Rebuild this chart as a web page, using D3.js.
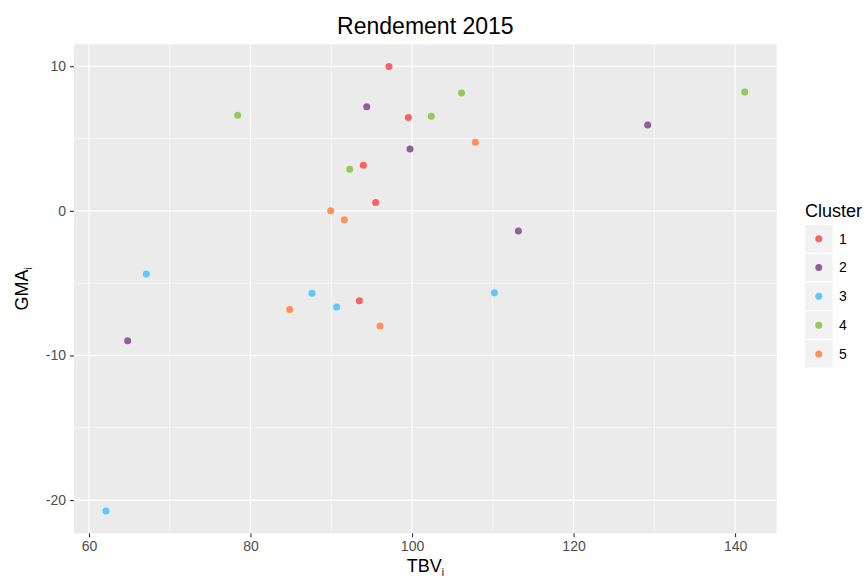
<!DOCTYPE html>
<html>
<head>
<meta charset="utf-8">
<script src="https://cdn.jsdelivr.net/npm/d3@7"></script>
<style>
  body { margin: 0; background: #ffffff; }
  svg { display: block; font-family: "Liberation Sans", Arial, sans-serif; }
</style>
</head>
<body>
<div id="chart"></div>
<script>
// cluster labels and colours
var clusters = ["1", "2", "3", "4", "5"];
var clusterColors = ["#fa6262", "#925d9b", "#5cc8fb", "#93c95b", "#fd9158"];

// points: TBV_i, GMA_i and cluster of each
var tbv = [97.15, 99.55, 93.97, 95.5, 93.48,
           94.39, 99.75, 129.18, 113.17, 64.79,
           67.1, 87.62, 90.67, 62.1, 110.2,
           78.41, 92.28, 106.13, 102.38, 141.2,
           89.93, 91.62, 107.84, 84.85, 96.04];
var gma = [9.98, 6.45, 3.15, 0.58, -6.22,
           7.19, 4.28, 5.94, -1.39, -8.99,
           -4.37, -5.69, -6.64, -20.76, -5.67,
           6.61, 2.87, 8.15, 6.55, 8.22,
           0.01, -0.61, 4.75, -6.82, -7.97];
var cluster = ["1", "1", "1", "1", "1",
               "2", "2", "2", "2", "2",
               "3", "3", "3", "3", "3",
               "4", "4", "4", "4", "4",
               "5", "5", "5", "5", "5"];

var xTicks = [60, 80, 100, 120, 140];
var xMinor = [70, 90, 110, 130];
var yTicks = [-20, -10, 0, 10];
var yMinor = [-15, -5, 5];

var width = 866;
var height = 580;
var panel = { left: 74, right: 776.7, top: 44.3, bottom: 533.3 };

// ggplot style 5% expansion
function expand(ext) {
  var pad = (ext[1] - ext[0]) * 0.05;
  return [ext[0] - pad, ext[1] + pad];
}

var xScale = d3.scaleLinear()
  .domain(expand(d3.extent(tbv)))
  .range([panel.left, panel.right]);

var yScale = d3.scaleLinear()
  .domain(expand(d3.extent(gma)))
  .range([panel.bottom, panel.top]);

var color = d3.scaleOrdinal().domain(clusters).range(clusterColors);

var svg = d3.select('#chart')
  .append('svg')
  .attr('width', width)
  .attr('height', height);

// panel background
svg.append('rect')
  .attr('x', panel.left)
  .attr('y', panel.top)
  .attr('width', panel.right - panel.left)
  .attr('height', panel.bottom - panel.top)
  .attr('fill', '#ebebeb');

// minor grid
svg.append('g').selectAll('line')
  .data(xMinor)
  .enter().append('line')
  .attr('x1', function(d) { return xScale(d); })
  .attr('x2', function(d) { return xScale(d); })
  .attr('y1', panel.top).attr('y2', panel.bottom)
  .attr('stroke', '#ffffff').attr('stroke-width', 0.6);

svg.append('g').selectAll('line')
  .data(yMinor)
  .enter().append('line')
  .attr('y1', function(d) { return yScale(d); })
  .attr('y2', function(d) { return yScale(d); })
  .attr('x1', panel.left).attr('x2', panel.right)
  .attr('stroke', '#ffffff').attr('stroke-width', 0.6);

// major grid
svg.append('g').selectAll('line')
  .data(xTicks)
  .enter().append('line')
  .attr('x1', function(d) { return xScale(d); })
  .attr('x2', function(d) { return xScale(d); })
  .attr('y1', panel.top).attr('y2', panel.bottom)
  .attr('stroke', '#ffffff').attr('stroke-width', 1.2);

svg.append('g').selectAll('line')
  .data(yTicks)
  .enter().append('line')
  .attr('y1', function(d) { return yScale(d); })
  .attr('y2', function(d) { return yScale(d); })
  .attr('x1', panel.left).attr('x2', panel.right)
  .attr('stroke', '#ffffff').attr('stroke-width', 1.2);

// points
svg.append('g').selectAll('circle')
  .data(tbv)
  .enter().append('circle')
  .attr('cx', function(d) { return xScale(d); })
  .attr('cy', function(d, i) { return yScale(gma[i]); })
  .attr('r', 3.5)
  .attr('fill', function(d, i) { return color(cluster[i]); });

// axes (plain hyphen for negatives, like the original)
var plain = function(d) { return String(d); };
var xAxis = d3.axisBottom(xScale).tickValues(xTicks).tickFormat(plain).tickSize(4).tickPadding(4);
var yAxis = d3.axisLeft(yScale).tickValues(yTicks).tickFormat(plain).tickSize(4).tickPadding(4);

var gx = svg.append('g')
  .attr('transform', 'translate(0,' + panel.bottom + ')')
  .call(xAxis);
var gy = svg.append('g')
  .attr('transform', 'translate(' + panel.left + ',0)')
  .call(yAxis);

[gx, gy].forEach(function(g) {
  g.select('.domain').remove();
  g.selectAll('line').attr('stroke', '#333333').attr('stroke-width', 1.1);
  g.selectAll('text')
    .attr('fill', '#4d4d4d')
    .attr('font-size', 14)
    .attr('font-family', '"Liberation Sans", Arial, sans-serif');
});

// title
svg.append('text')
  .attr('x', (panel.left + panel.right) / 2)
  .attr('y', 34)
  .attr('text-anchor', 'middle')
  .attr('font-size', 23)
  .attr('fill', '#000000')
  .text('Rendement 2015');

// axis titles with subscript i
var xt = svg.append('text')
  .attr('x', (panel.left + panel.right) / 2)
  .attr('y', 572)
  .attr('text-anchor', 'middle')
  .attr('font-size', 18)
  .attr('fill', '#000000');
xt.append('tspan').text('TBV');
xt.append('tspan').attr('font-size', 10).attr('dy', 4).text('i');

var yt = svg.append('text')
  .attr('transform', 'translate(28,' + ((panel.top + panel.bottom) / 2) + ') rotate(-90)')
  .attr('text-anchor', 'middle')
  .attr('font-size', 18)
  .attr('fill', '#000000');
yt.append('tspan').text('GMA');
yt.append('tspan').attr('font-size', 10).attr('dy', 4).text('i');

// legend
var legend = svg.append('g').attr('transform', 'translate(805,0)');

legend.append('text')
  .attr('x', 0)
  .attr('y', 217)
  .attr('font-size', 18)
  .attr('fill', '#000000')
  .text('Cluster');

var keys = legend.selectAll('g.key')
  .data(clusters)
  .enter().append('g')
  .attr('class', 'key')
  .attr('transform', function(d, i) { return 'translate(0,' + (225 + i * 28.8) + ')'; });

keys.append('rect')
  .attr('width', 27.5)
  .attr('height', 27.5)
  .attr('fill', '#f2f2f2');

keys.append('circle')
  .attr('cx', 13.75)
  .attr('cy', 13.75)
  .attr('r', 3.5)
  .attr('fill', function(d) { return color(d); });

keys.append('text')
  .attr('x', 34)
  .attr('y', 18.5)
  .attr('font-size', 14)
  .attr('fill', '#000000')
  .text(function(d) { return d; });
</script>
</body>
</html>
